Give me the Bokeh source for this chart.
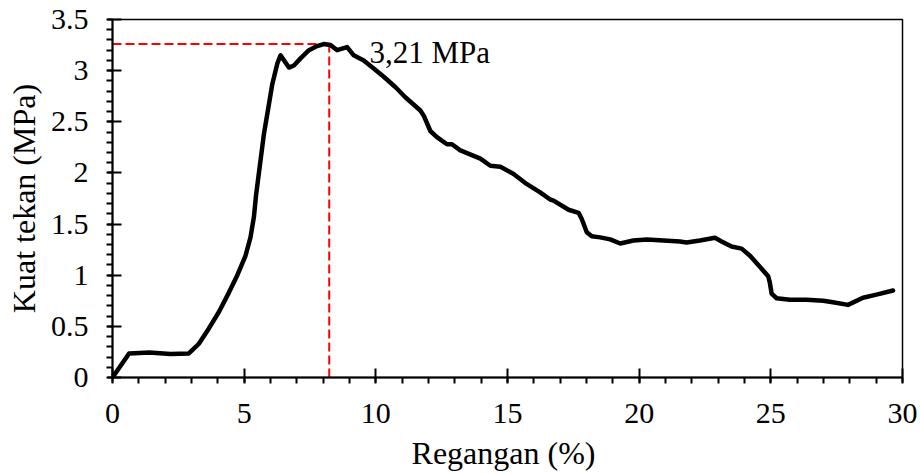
from bokeh.plotting import figure
from bokeh.models import Range1d, FixedTicker, Label
from bokeh.embed import file_html
from bokeh.resources import INLINE

# Stress-strain data
strain = [0.0, 0.63, 1.4, 2.2, 2.9, 3.28, 3.66, 4.04, 4.42, 4.74, 5.05, 5.24, 5.37, 5.45,
          5.75, 6.07, 6.26, 6.38, 6.70, 6.89, 7.14, 7.46, 7.77, 8.02, 8.28, 8.53, 8.91,
          9.16, 9.54, 9.92, 10.3, 10.74, 11.12, 11.69, 11.82, 12.07, 12.32, 12.70, 12.89,
          13.21, 13.97, 14.35, 14.73, 15.23, 15.74, 16.24, 16.62, 16.75, 17.32, 17.70,
          17.82, 18.01, 18.20, 18.52, 18.90, 19.28, 19.78, 20.29, 20.92, 21.55, 21.80,
          22.31, 22.88, 23.13, 23.51, 23.89, 24.21, 24.59, 24.90, 24.96, 25.03, 25.22,
          25.72, 26.36, 26.99, 27.36, 27.93, 28.50, 29.01, 29.64]
stress = [0.0, 0.235, 0.245, 0.23, 0.235, 0.33, 0.48, 0.64, 0.83, 1.0, 1.19, 1.37, 1.57, 1.78,
          2.38, 2.87, 3.07, 3.15, 3.03, 3.05, 3.12, 3.20, 3.24, 3.26, 3.25, 3.20, 3.23,
          3.15, 3.10, 3.02, 2.94, 2.84, 2.74, 2.61, 2.56, 2.41, 2.35, 2.28, 2.28,
          2.22, 2.14, 2.07, 2.06, 1.99, 1.89, 1.81, 1.74, 1.73, 1.64, 1.61,
          1.55, 1.42, 1.38, 1.37, 1.35, 1.31, 1.34, 1.35, 1.34, 1.33, 1.32,
          1.34, 1.366, 1.33, 1.28, 1.26, 1.19, 1.08, 0.99, 0.93, 0.82, 0.775,
          0.76, 0.76, 0.75, 0.735, 0.71, 0.78, 0.81, 0.85]

peak_strain = 8.23
peak_stress = 3.26
peak_label = "3,21 MPa"

x_ticks = [0, 5, 10, 15, 20, 25, 30]
y_ticks = [0, 0.5, 1, 1.5, 2, 2.5, 3, 3.5]
y_tick_labels = ["0", "0.5", "1", "1.5", "2", "2.5", "3", "3.5"]

FONT = "Liberation Serif"

p = figure(width=920, height=474, output_backend="svg", toolbar_location=None,
           x_range=Range1d(0, 30), y_range=Range1d(0, 3.5),
           min_border_left=112, min_border_right=18, min_border_top=19, min_border_bottom=97)
p.grid.visible = False
p.outline_line_color = "black"
p.outline_line_width = 1.5
p.background_fill_color = "white"
p.border_fill_color = "white"

# dashed guide lines to the peak
p.line([0, peak_strain], [peak_stress, peak_stress], line_color="red", line_width=2, line_dash="9 4")
p.line([peak_strain, peak_strain], [0, peak_stress], line_color="red", line_width=2, line_dash="9 4")

p.line(strain, stress, line_color="black", line_width=4.5, line_join="round", line_cap="round")

p.add_layout(Label(x=9.76, y=3.18, text=peak_label, text_font=FONT, text_font_size="31px",
                   text_color="black", text_baseline="alphabetic"))

p.xaxis.ticker = FixedTicker(ticks=x_ticks, minor_ticks=list(range(0, 31)))
p.yaxis.ticker = FixedTicker(ticks=y_ticks, minor_ticks=[i / 10 for i in range(0, 36)])
p.yaxis.major_label_overrides = {t: l for t, l in zip(y_ticks, y_tick_labels)}

for ax in (p.xaxis, p.yaxis):
    ax.axis_line_color = "black"
    ax.axis_line_width = 2
    ax.major_tick_line_color = "black"
    ax.major_tick_line_width = 2
    ax.minor_tick_line_color = "black"
    ax.minor_tick_line_width = 2
    ax.major_tick_in = 9
    ax.major_tick_out = 5
    ax.minor_tick_in = 0
    ax.minor_tick_out = 6
    ax.major_label_text_font = FONT
    ax.major_label_text_font_size = "30px"
    ax.major_label_text_color = "black"
    ax.axis_label_text_font = FONT
    ax.axis_label_text_font_size = "32px"
    ax.axis_label_text_font_style = "normal"
    ax.axis_label_text_color = "black"

p.xaxis.axis_label = "Regangan  (%)"
p.yaxis.axis_label = "Kuat tekan (MPa)"
p.xaxis.major_label_standoff = 20
p.yaxis.major_label_standoff = 18
p.xaxis.axis_label_standoff = 9
p.yaxis.axis_label_standoff = 6

open("out.html", "w").write(file_html(p, INLINE))
